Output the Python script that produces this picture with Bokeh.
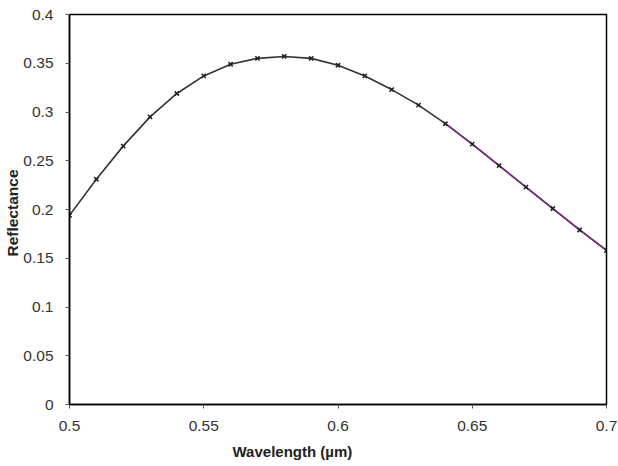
from bokeh.plotting import figure
from bokeh.models import Title, FixedTicker, Range1d
from bokeh.embed import file_html
from bokeh.resources import INLINE

wavelength = [0.50, 0.51, 0.52, 0.53, 0.54, 0.55, 0.56, 0.57, 0.58, 0.59, 0.60,
              0.61, 0.62, 0.63, 0.64, 0.65, 0.66, 0.67, 0.68, 0.69, 0.70]
reflectance = [0.194, 0.231, 0.265, 0.295, 0.319, 0.337, 0.349, 0.355, 0.357, 0.355, 0.348,
               0.337, 0.323, 0.307, 0.288, 0.267, 0.245, 0.223, 0.201, 0.179, 0.158]
purple_start = 14  # index where purple overlay begins

x_ticks = [0.5, 0.55, 0.6, 0.65, 0.7]
y_ticks = [0, 0.05, 0.1, 0.15, 0.2, 0.25, 0.3, 0.35, 0.4]

p = figure(width=618, height=466, output_backend="svg", toolbar_location=None,
           x_range=Range1d(0.5, 0.7), y_range=Range1d(0, 0.4),
           min_border_left=69, min_border_right=12, min_border_top=14, min_border_bottom=62)
p.background_fill_color = "white"
p.border_fill_color = "white"
p.outline_line_color = "black"
p.outline_line_width = 1.5
p.xgrid.visible = False
p.ygrid.visible = False

for ax in (p.xaxis[0], p.yaxis[0]):
    ax.axis_line_color = "black"
    ax.axis_line_width = 1.5
    ax.major_tick_line_color = "#555555"
    ax.major_tick_in = 0
    ax.major_tick_out = 4
    ax.minor_tick_line_color = None
    ax.major_label_text_font = "Liberation Sans"
    ax.major_label_text_font_size = "15.5px"
    ax.major_label_text_color = "#333333"

p.xaxis[0].ticker = FixedTicker(ticks=x_ticks)
p.yaxis[0].ticker = FixedTicker(ticks=y_ticks)
p.xaxis[0].major_label_overrides = {t: f"{t:g}" for t in x_ticks}
p.yaxis[0].major_label_overrides = {t: f"{t:g}" for t in y_ticks}
p.xaxis[0].major_label_standoff = 12
p.yaxis[0].major_label_standoff = 12

p.line(wavelength, reflectance, line_color="#333333", line_width=1.6)
p.line(wavelength[purple_start:], reflectance[purple_start:], line_color="#7b2d86", line_width=1.6)
p.scatter(wavelength, reflectance, marker="x", size=6, line_color="#222222", line_width=1.6)

xt = Title(text="Wavelength (µm)", align="left", offset=163, standoff=14,
           text_font="Liberation Sans", text_font_style="bold", text_font_size="15px",
           text_color="#222222")
yt = Title(text="Reflectance", align="left", offset=148, standoff=-1,
           text_font="Liberation Sans", text_font_style="bold", text_font_size="15.5px",
           text_color="#222222")
p.add_layout(xt, "below")
p.add_layout(yt, "left")

open("out.html", "w").write(file_html(p, INLINE))
